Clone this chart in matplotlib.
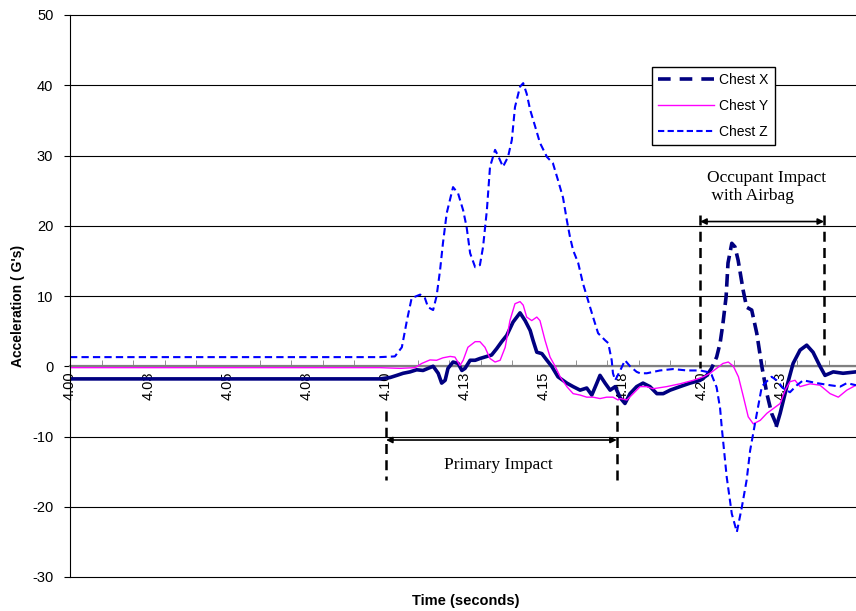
"""Chest acceleration traces for the crash test, Excel-style chart."""

import numpy as np
import matplotlib

matplotlib.use("agg")
import matplotlib.pyplot as plt
from matplotlib.lines import Line2D

# --- data ------------------------------------------------------------------
chest_x_t = [4.0000, 4.0981, 4.1013, 4.1034, 4.1054, 4.1076, 4.1097, 4.1117, 4.1149, 4.1165,
             4.1176, 4.1187, 4.1196, 4.1212, 4.1228, 4.1240, 4.1250, 4.1266, 4.1282, 4.1297,
             4.1319, 4.1334, 4.1350, 4.1366, 4.1382, 4.1402, 4.1424, 4.1440, 4.1456, 4.1465,
             4.1477, 4.1493, 4.1509, 4.1524, 4.1544, 4.1572, 4.1592, 4.1614, 4.1635, 4.1651,
             4.1667, 4.1677, 4.1693, 4.1709, 4.1725, 4.1741, 4.1756, 4.1772, 4.1793, 4.1813,
             4.1835, 4.1857, 4.1877, 4.1899, 4.1930, 4.1962, 4.1994, 4.2015, 4.2030, 4.2046,
             4.2057, 4.2066, 4.2076, 4.2082, 4.2094, 4.2104, 4.2114, 4.2130, 4.2141, 4.2157,
             4.2173, 4.2189, 4.2205, 4.2220, 4.2236, 4.2247, 4.2268, 4.2288, 4.2310, 4.2331,
             4.2351, 4.2373, 4.2389, 4.2415, 4.2446, 4.2487]
chest_x_g = [-1.8, -1.8, -1.6, -1.3, -1.0, -0.8, -0.5, -0.6, 0.0, -1.0,
             -2.4, -2.0, -0.3, 0.6, 0.4, -0.6, -0.3, 0.85, 0.85, 1.1,
             1.4, 1.6, 2.5, 3.5, 4.4, 6.3, 7.6, 6.5, 5.1, 3.7,
             2.0, 1.8, 0.85, 0.0, -1.5, -2.4, -2.9, -3.4, -3.1, -4.1,
             -2.4, -1.3, -2.4, -3.4, -2.9, -4.5, -5.3, -3.9, -2.9, -2.4,
             -2.9, -3.9, -3.9, -3.4, -2.9, -2.4, -2.0, -1.3, -0.3, 1.3,
             3.3, 6.1, 9.9, 14.7, 17.5, 17.0, 15.1, 10.8, 8.4, 8.0,
             4.7, 0.0, -3.9, -6.7, -8.4, -6.7, -2.9, 0.4, 2.3, 3.0,
             2.0, 0.0, -1.3, -0.8, -1.0, -0.8]

chest_y_t = [4.0000, 4.0981, 4.1044, 4.1092, 4.1113, 4.1139, 4.1160, 4.1180, 4.1203, 4.1218,
             4.1234, 4.1244, 4.1259, 4.1282, 4.1297, 4.1313, 4.1329, 4.1345, 4.1361, 4.1377,
             4.1392, 4.1408, 4.1424, 4.1434, 4.1445, 4.1461, 4.1477, 4.1487, 4.1503, 4.1519,
             4.1535, 4.1551, 4.1572, 4.1592, 4.1614, 4.1635, 4.1655, 4.1677, 4.1698, 4.1718,
             4.1734, 4.1741, 4.1762, 4.1782, 4.1804, 4.1825, 4.1845, 4.1888, 4.1930, 4.1972,
             4.2004, 4.2025, 4.2046, 4.2066, 4.2083, 4.2099, 4.2115, 4.2131, 4.2146, 4.2162,
             4.2184, 4.2205, 4.2226, 4.2247, 4.2263, 4.2278, 4.2294, 4.2310, 4.2342, 4.2373,
             4.2405, 4.2431, 4.2458, 4.2487]
chest_y_g = [-0.2, -0.2, -0.3, -0.2, 0.4, 0.9, 0.85, 1.2, 1.4, 1.3,
             0.1, 0.85, 2.7, 3.5, 3.5, 2.7, 1.1, 0.6, 0.85, 2.7,
             6.5, 8.9, 9.2, 8.7, 7.0, 6.5, 7.0, 6.5, 3.7, 1.3,
             0.0, -1.5, -2.9, -3.9, -4.1, -4.4, -4.4, -4.6, -4.4, -4.4,
             -4.8, -4.6, -4.8, -3.9, -2.9, -2.9, -3.2, -2.9, -2.5, -2.0,
             -1.5, -1.0, -0.3, 0.4, 0.6, 0.0, -1.5, -4.4, -7.2, -8.2,
             -7.7, -6.7, -6.0, -5.3, -3.4, -2.2, -2.0, -2.9, -2.5, -2.7,
             -3.9, -4.4, -3.4, -2.7]

chest_z_t = [4.0000, 4.0980, 4.1028, 4.1050, 4.1066, 4.1081, 4.1108, 4.1123, 4.1133, 4.1149,
             4.1160, 4.1171, 4.1180, 4.1192, 4.1212, 4.1228, 4.1244, 4.1255, 4.1266, 4.1282,
             4.1297, 4.1307, 4.1319, 4.1329, 4.1345, 4.1354, 4.1370, 4.1386, 4.1398, 4.1408,
             4.1424, 4.1434, 4.1445, 4.1456, 4.1472, 4.1487, 4.1509, 4.1528, 4.1544, 4.1560,
             4.1572, 4.1582, 4.1592, 4.1608, 4.1623, 4.1639, 4.1655, 4.1671, 4.1693, 4.1703,
             4.1714, 4.1718, 4.1725, 4.1741, 4.1756, 4.1772, 4.1793, 4.1804, 4.1825, 4.1867,
             4.1908, 4.1952, 4.1994, 4.2015, 4.2030, 4.2046, 4.2057, 4.2062, 4.2078, 4.2094,
             4.2110, 4.2126, 4.2141, 4.2152, 4.2168, 4.2189, 4.2199, 4.2220, 4.2236, 4.2256,
             4.2278, 4.2300, 4.2320, 4.2363, 4.2405, 4.2437, 4.2458, 4.2487]
chest_z_g = [1.3, 1.3, 1.4, 2.7, 6.5, 9.7, 10.2, 9.7, 8.4, 8.0,
             10.0, 13.7, 17.5, 21.8, 25.5, 24.6, 22.2, 19.8, 16.1, 14.1,
             14.4, 17.0, 22.2, 28.4, 30.8, 30.0, 28.4, 29.8, 32.2, 36.9,
             39.8, 40.3, 38.8, 36.5, 34.1, 31.8, 29.8, 28.9, 26.5, 24.0,
             20.8, 18.4, 16.5, 14.7, 11.8, 9.4, 7.0, 4.7, 3.7, 3.3,
             0.85, -1.0, -2.0, -0.6, 0.85, 0.0, -0.8, -1.0, -1.0, -0.6,
             -0.4, -0.6, -0.6, -0.8, -1.2, -3.0, -6.0, -8.6, -15.8, -21.0,
             -23.6, -20.0, -16.2, -12.0, -8.0, -2.9, -2.4, -1.5, -2.0, -3.1,
             -3.7, -2.7, -2.0, -2.4, -2.7, -2.9, -2.4, -2.7]

tick_pos = [4.000, 4.025, 4.050, 4.075, 4.100, 4.125, 4.150, 4.175, 4.200, 4.225]
tick_text = ["4.00", "4.03", "4.05", "4.08", "4.10", "4.13", "4.15", "4.18", "4.20", "4.23"]

# annotation spans (seconds)
primary_span = (4.1000, 4.1730)
airbag_span = (4.1994, 4.2386)

NAVY = "#000080"
PINK = "#FF00FF"
BLUE = "#0000FF"

plt.rcParams["font.family"] = ["Liberation Sans", "DejaVu Sans"]
plt.rcParams["axes.unicode_minus"] = False

fig = plt.figure(figsize=(8.56, 6.11), dpi=100)
ax = fig.add_axes([70 / 856, 34 / 611, 786 / 856, 562 / 611])

ax.set_xlim(4.0, 4.2487)
ax.set_ylim(-30, 50)
ax.set_yticks(np.arange(-30, 51, 10))
ax.yaxis.grid(True, color="black", linewidth=0.8)
for gl in ax.get_ygridlines():
    gl.set_clip_on(False)
ax.set_axisbelow(True)

for s in ("top", "right"):
    ax.spines[s].set_visible(False)
ax.spines["left"].set_color("black")
ax.spines["left"].set_zorder(5)
ax.spines["bottom"].set_position(("data", 0))
ax.spines["bottom"].set_color("#808080")
ax.spines["bottom"].set_linewidth(1.6)
ax.spines["bottom"].set_zorder(1.5)

ax.set_xticks(tick_pos)
ax.set_xticklabels(tick_text, rotation=90, fontsize=10.5)
ax.set_xticks(np.arange(4.0, 4.245, 0.01), minor=True)
ax.tick_params(axis="x", which="major", length=0, pad=4)
ax.tick_params(axis="x", which="minor", direction="in", length=4, color="#808080")
ax.tick_params(axis="y", labelsize=10.5, length=4, pad=8)

# Chest X: Excel's dashes only show on the smooth airbag pulse
cx_t = np.array(chest_x_t)
cx_g = np.array(chest_x_g)
pulse = (cx_t >= 4.2015) & (cx_t <= 4.2236)
before = cx_t <= 4.2015
after = cx_t >= 4.2236
ax.plot(cx_t[before], cx_g[before], color=NAVY, lw=2.6, solid_joinstyle="round", zorder=3)
ax.plot(cx_t[pulse], cx_g[pulse], color=NAVY, lw=2.6, dashes=(3.5, 1.6), zorder=3)
ax.plot(cx_t[after], cx_g[after], color=NAVY, lw=2.6, solid_joinstyle="round", zorder=3)

ax.plot(chest_y_t, chest_y_g, color=PINK, lw=1.0, zorder=3)
ax.plot(chest_z_t, chest_z_g, color=BLUE, lw=1.5, dashes=(3.5, 2), zorder=3)

handles = [
    Line2D([], [], color=NAVY, lw=2.6, dashes=(3.5, 2.5)),
    Line2D([], [], color=PINK, lw=1.0),
    Line2D([], [], color=BLUE, lw=1.5, dashes=(3, 1.6)),
]
leg = ax.legend(handles, ["Chest X", "Chest Y", "Chest Z"], loc="upper left",
                bbox_to_anchor=(0.7405, 0.9075), fontsize=10, handlelength=4,
                labelspacing=0.85, borderpad=0.45, handletextpad=0.4,
                fancybox=False, framealpha=1, edgecolor="black", borderaxespad=0)
leg.get_frame().set_linewidth(1.0)
leg.set_zorder(6)

# event markers
vdash = dict(color="black", lw=1.8, dashes=(4, 2.5), zorder=4)
arrow = dict(arrowstyle="<|-|>", color="black", lw=1.2, mutation_scale=9, shrinkA=0, shrinkB=0)

ax.plot([primary_span[0]] * 2, [-6.3, -16.2], **vdash)
ax.plot([primary_span[1]] * 2, [-5.5, -16.2], **vdash)
ax.annotate("", xy=(primary_span[0], -10.5), xytext=(primary_span[1], -10.5), arrowprops=arrow)
ax.text(4.1354, -14.1, "Primary Impact", family="Liberation Serif", fontsize=12.5,
        ha="center", va="center")

ax.plot([airbag_span[0]] * 2, [21.5, -0.3], **vdash)
ax.plot([airbag_span[1]] * 2, [21.5, 0.8], **vdash)
ax.annotate("", xy=(airbag_span[0], 20.6), xytext=(airbag_span[1], 20.6), arrowprops=arrow)
ax.text(4.2016, 25.5, "Occupant Impact\n with Airbag", family="Liberation Serif",
        fontsize=12.5, ha="left", va="center", linespacing=1.15)

fig.text(18 / 856, 1 - 306 / 611, "Acceleration ( G's)", rotation=90, fontsize=10,
         fontweight="bold", ha="center", va="center")
fig.text(466 / 856, 1 - 601 / 611, "Time (seconds)", fontsize=10.5, fontweight="bold",
         ha="center", va="center")

fig.savefig("out.png", dpi=100)
plt.close(fig)
